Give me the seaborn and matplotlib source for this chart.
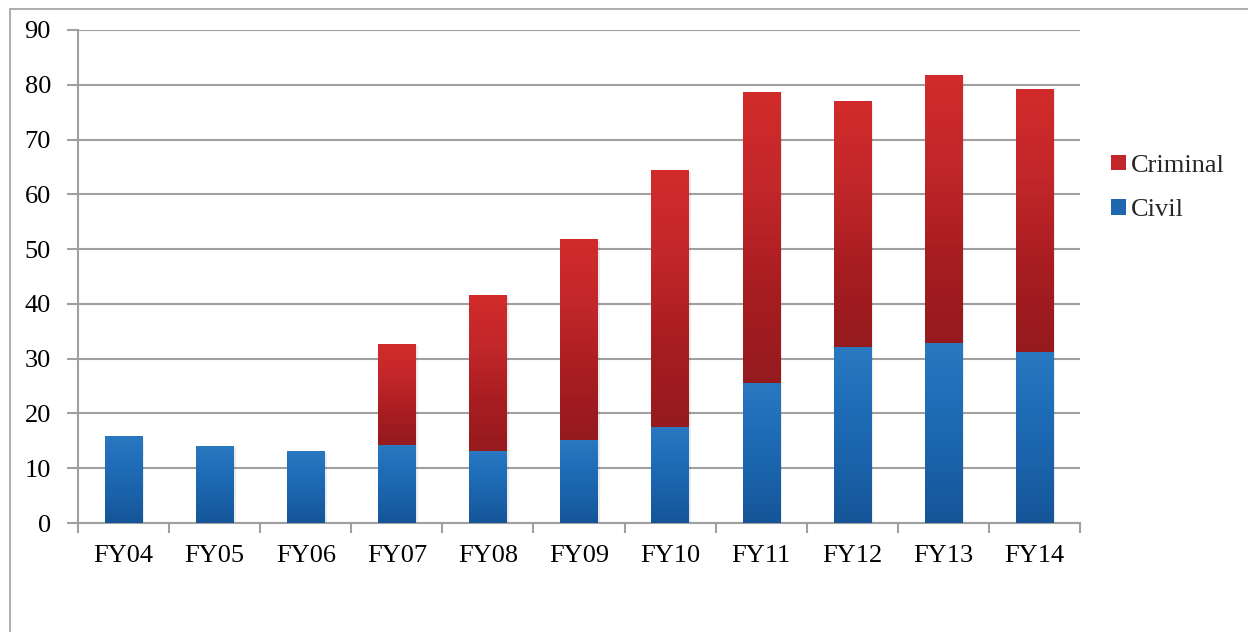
import numpy as np
import matplotlib
matplotlib.use("Agg")
import matplotlib.pyplot as plt
import seaborn as sns
from matplotlib.colors import LinearSegmentedColormap
from matplotlib.patches import Rectangle, Patch

# Caseload by fiscal year
years = ["FY04", "FY05", "FY06", "FY07", "FY08", "FY09", "FY10",
         "FY11", "FY12", "FY13", "FY14"]
civil = [15.7, 13.9, 13.0, 14.1, 13.0, 15.0, 17.5, 25.4, 32.0, 32.7, 31.2]
criminal = [0.0, 0.0, 0.0, 18.6, 28.6, 36.8, 46.8, 53.3, 45.0, 49.1, 48.0]
y_ticks = [0, 10, 20, 30, 40, 50, 60, 70, 80, 90]

totals = [c + k for c, k in zip(civil, criminal)]

sns.set_theme(style="white")
plt.rcParams["font.family"] = ["Liberation Serif", "DejaVu Serif"]

fig = plt.figure(figsize=(12.48, 6.32), dpi=100)
ax = fig.add_axes([78 / 1248, 1 - 523 / 632, (1080 - 78) / 1248, (523 - 30) / 632])

# outer chart frame
fig.patches.append(Rectangle((10 / 1248, -0.05), 1.05, 1 - 9 / 632 + 0.05,
                             transform=fig.transFigure, fill=False,
                             edgecolor="#a0a0a0", linewidth=1.2, zorder=0))

bar_w = 0.41
sns.barplot(x=years, y=totals, color="#c0262a", width=bar_w, ax=ax,
            saturation=1, zorder=2)
n = len(years)
sns.barplot(x=years, y=civil, color="#1e66ae", width=bar_w, ax=ax,
            saturation=1, zorder=3)

red_cmap = LinearSegmentedColormap.from_list(
    "crim", ["#951a1e", "#a81d21", "#c2272a", "#d22b2b"])
blue_cmap = LinearSegmentedColormap.from_list(
    "civ", ["#155597", "#1a62aa", "#1f6db7", "#2a78c0"])
grad = np.linspace(0, 1, 256).reshape(-1, 1)

patches = list(ax.patches)
for i, p in enumerate(patches):
    x0 = p.get_x()
    x1 = x0 + p.get_width()
    if i < n:
        lo, hi, cmap, z = civil[i], totals[i], red_cmap, 2
        if criminal[i] <= 0:
            p.set_visible(False)
            continue
    else:
        j = i - n
        lo, hi, cmap, z = 0, civil[j], blue_cmap, 3
    p.set_facecolor("none")
    p.set_edgecolor("none")
    # soft drop shadow
    ax.add_patch(Rectangle((x0 + 0.025, lo - 0.25), x1 - x0, hi - lo,
                           facecolor="#000000", alpha=0.08, edgecolor="none",
                           zorder=z - 0.5))
    ax.imshow(grad, cmap=cmap, origin="lower", aspect="auto",
              extent=[x0, x1, lo, hi], zorder=z, interpolation="bilinear")

ax.set_xlim(-0.5, n - 0.5)
ax.set_ylim(0, 90)
ax.set_yticks(y_ticks)
ax.set_xticks(range(n))
ax.set_xticklabels(years)
ax.set_xticks(np.arange(-0.5, n, 1.0), minor=True)

ax.yaxis.grid(True, color="#a0a0a0", linewidth=1.5, zorder=0)
ax.set_axisbelow(True)
for side in ["top", "right"]:
    ax.spines[side].set_visible(False)
for side in ["left", "bottom"]:
    ax.spines[side].set_color("#a0a0a0")
    ax.spines[side].set_linewidth(1.5)

ax.tick_params(axis="y", which="major", left=True, length=8, width=1.5,
               color="#a0a0a0", labelsize=19, pad=11.5, labelcolor="black")
ax.tick_params(axis="x", which="major", bottom=False, length=0,
               labelsize=19, pad=16, labelcolor="black")
ax.tick_params(axis="x", which="minor", bottom=True, length=7, width=1.5,
               color="#a0a0a0")
ax.set_xlabel("")
ax.set_ylabel("")

handles = [Patch(facecolor="#c0262a", edgecolor="none", label="Criminal"),
           Patch(facecolor="#1e66ae", edgecolor="none", label="Civil")]
ax.legend(handles=handles, loc="center left", bbox_to_anchor=(1.02, 0.68),
          frameon=False, fontsize=19, handlelength=0.57, handleheight=0.55,
          handletextpad=0.2, labelspacing=0.83, borderaxespad=0)

fig.savefig("out.png", dpi=100)
